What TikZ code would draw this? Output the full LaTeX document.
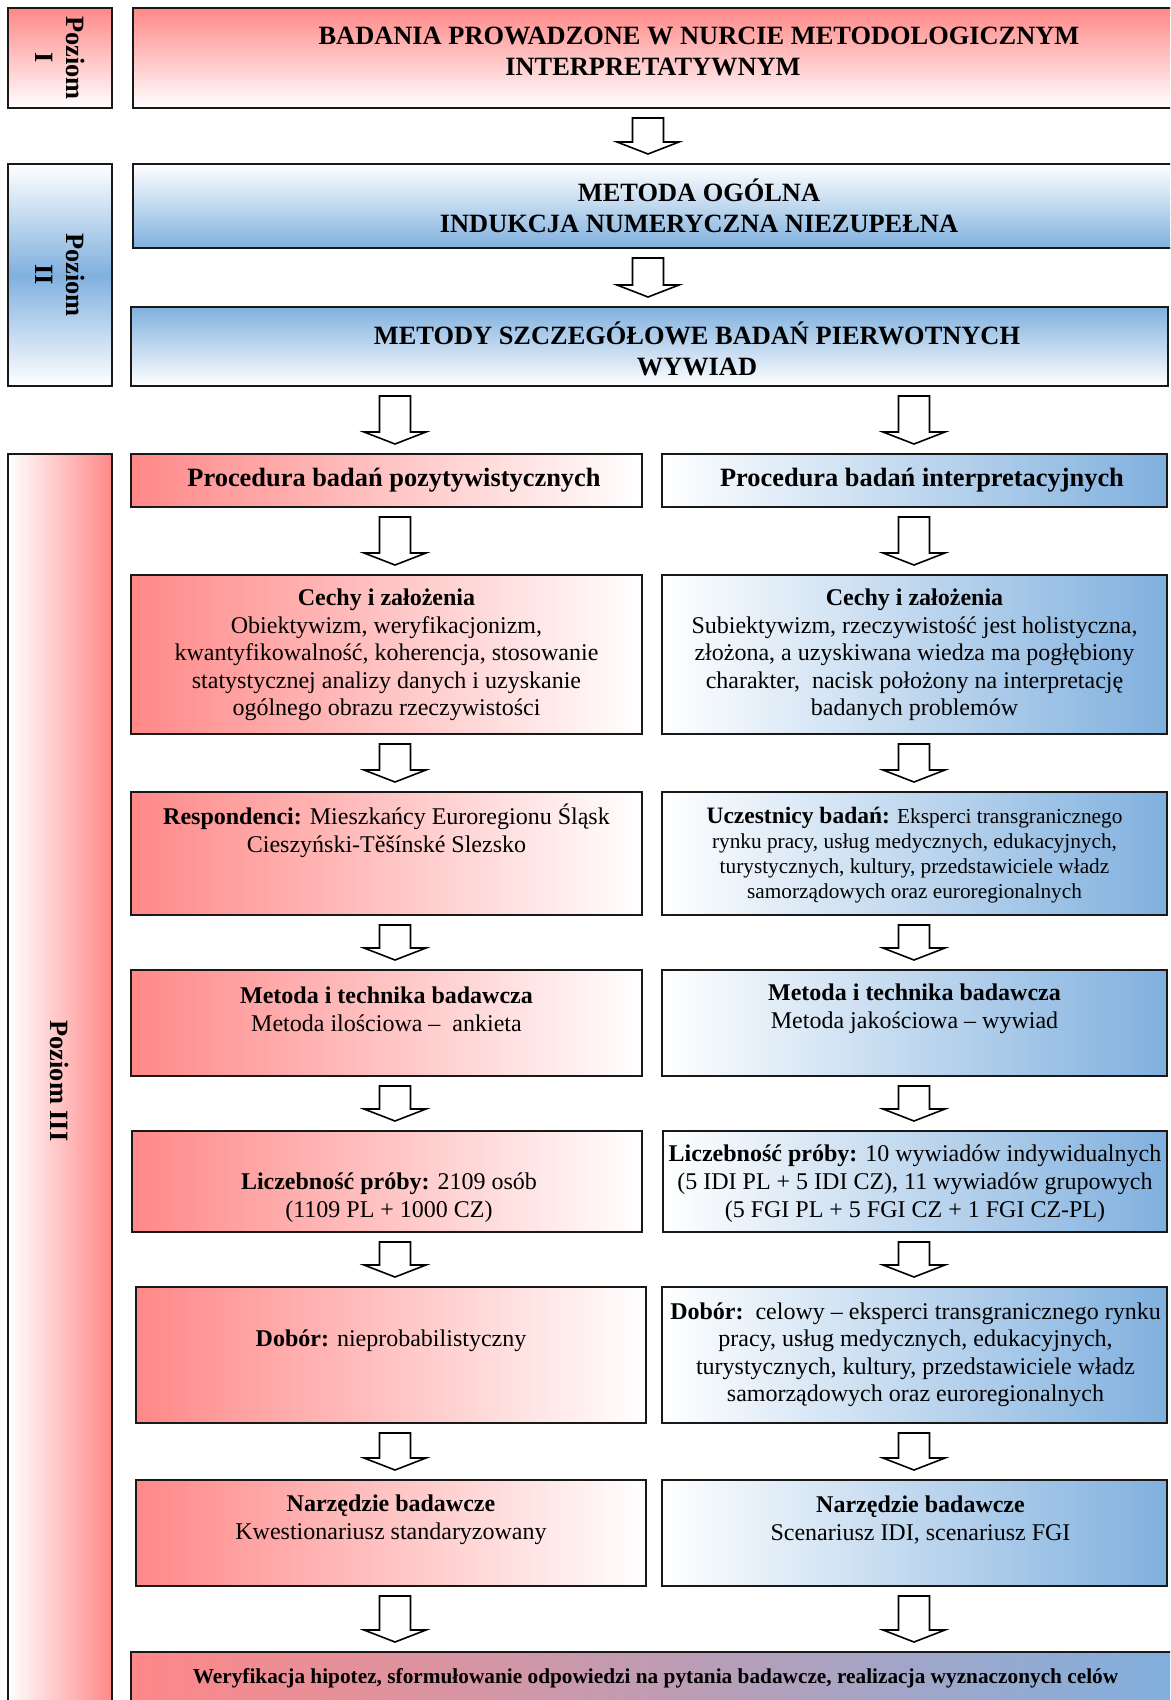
\documentclass[tikz,border=0pt]{standalone}
\usepackage{fontspec}
\setmainfont{Liberation Serif}
\usetikzlibrary{calc}

\definecolor{rosered}{RGB}{255,136,136}
\definecolor{skyblue}{RGB}{128,176,222}

\tikzset{
  box/.style={draw=black!90, line width=2pt, inner sep=0pt},
  txt/.style={align=center, inner sep=0pt, font=\fontsize{24}{27.6}\selectfont},
  head/.style={txt, font=\fontsize{26.4}{31}\selectfont\bfseries},
  small/.style={txt, font=\fontsize{21.3}{24.9}\selectfont},
  hollow/.style={draw=black, line width=1.6pt, fill=white},
}

% hollow block arrow: column, from node, to node
\newcommand\flowarrow[3]{%
  \draw[hollow] ($(#2.south -| #1)+(-15.5,9)$) -- ($(#3.north -| #1)+(-15.5,-21)$)
    -- ($(#3.north -| #1)+(-31,-21)$) -- ($(#3.north -| #1)+(0,-9)$)
    -- ($(#3.north -| #1)+(31,-21)$) -- ($(#3.north -| #1)+(15.5,-21)$)
    -- ($(#2.south -| #1)+(15.5,9)$) -- cycle;
}

\begin{document}
\begin{tikzpicture}[x=1pt,y=-1pt]
    \useasboundingbox (0,0) rectangle (1170,1700);
    \clip (0,0) rectangle (1170,1700);
    \coordinate (colM) at (648,0);
    \coordinate (colL) at (395,0);
    \coordinate (colR) at (914,0);

    % poziom I
    \node[box, minimum width=104, minimum height=100, top color=rosered, bottom color=white] (p1) at (60,58) {};
    \node[head, rotate=-90] (p1t) at (p1) {Poziom\\I};
    \node[box, minimum width=1132, minimum height=100, top color=rosered, bottom color=white] (top) at (699,58) {};
    \node[head] (topt) at (699,51.5) {BADANIA PROWADZONE W NURCIE METODOLOGICZNYM\\\hspace*{-92pt}INTERPRETATYWNYM};

    % poziom II
    \node[box, minimum width=104, minimum height=222, top color=white, bottom color=white, middle color=skyblue] (p2) at (60,275) {};
    \node[head, rotate=-90] (p2t) at (p2) {Poziom\\II};
    \node[box, minimum width=1132, minimum height=84, top color=white, bottom color=skyblue] (metoda) at (699,206) {};
    \node[head] (metodat) at (metoda) {METODA OGÓLNA\\INDUKCJA NUMERYCZNA NIEZUPEŁNA};
    \node[box, minimum width=1037, minimum height=79, top color=skyblue, bottom color=white] (metody) at (649.5,346.5) {};
    \node[head] (metodyt) at (697,348.5) {METODY SZCZEGÓŁOWE BADAŃ PIERWOTNYCH\\WYWIAD};

    % poziom III
    \node[box, minimum width=104, minimum height=1255, left color=white, right color=rosered] (p3) at (60,1081.5) {};
    \node[head, rotate=-90] (p3t) at (60,1081) {Poziom III};

    % lewa kolumna
    \node[box, minimum width=511, minimum height=53, left color=rosered, right color=white] (procL) at (386.5,480.5) {};
    \node[head] (procLt) at (394,480) {Procedura badań pozytywistycznych};
    \node[box, minimum width=511, minimum height=159, left color=rosered, right color=white] (cechyL) at (386.5,654.5) {};
    \node[txt] (cechyLt) at (386.5,655) {\textbf{Cechy i założenia}\\Obiektywizm, weryfikacjonizm,\\kwantyfikowalność, koherencja, stosowanie\\statystycznej analizy danych i uzyskanie\\ogólnego obrazu rzeczywistości};
    \node[box, minimum width=511, minimum height=123, left color=rosered, right color=white] (respL) at (386.5,853.5) {};
    \node[txt] (respLt) at (386.5,830.6) {\textbf{Respondenci:} Mieszkańcy Euroregionu Śląsk\\Cieszyński-Těšínské Slezsko};
    \node[box, minimum width=511, minimum height=106, left color=rosered, right color=white] (metL) at (386.5,1023) {};
    \node[txt] (metLt) at (386.5,1009) {\textbf{Metoda i technika badawcza}\\Metoda ilościowa –\ \ ankieta};
    \node[box, minimum width=510, minimum height=101, left color=rosered, right color=white] (liczL) at (387,1181.5) {};
    \node[txt] (liczLt) at (389,1197.6) {\textbf{Liczebność próby:} 2109 osób\\(1109 PL + 1000 CZ)};
    \node[box, minimum width=510, minimum height=136, left color=rosered, right color=white] (doborL) at (391,1355) {};
    \node[txt] (doborLt) at (391,1341) {\textbf{Dobór:} nieprobabilistyczny};
    \node[box, minimum width=510, minimum height=106, left color=rosered, right color=white] (narzL) at (391,1533) {};
    \node[txt] (narzLt) at (391,1519.7) {\textbf{Narzędzie badawcze}\\Kwestionariusz standaryzowany};

    % prawa kolumna
    \node[box, minimum width=505, minimum height=53, left color=white, right color=skyblue] (procR) at (914.5,480.5) {};
    \node[head] (procRt) at (922,480) {Procedura badań interpretacyjnych};
    \node[box, minimum width=505, minimum height=159, left color=white, right color=skyblue] (cechyR) at (914.5,654.5) {};
    \node[txt] (cechyRt) at (914.5,655) {\textbf{Cechy i założenia}\\Subiektywizm, rzeczywistość jest holistyczna,\\złożona, a uzyskiwana wiedza ma pogłębiony\\charakter,\ \ nacisk położony na interpretację\\badanych problemów};
    \node[box, minimum width=505, minimum height=123, left color=white, right color=skyblue] (uczR) at (914.5,853.5) {};
    \node[small] (uczRt) at (914.5,855) {{\fontsize{23.5}{24.9}\selectfont\bfseries Uczestnicy badań:} Eksperci transgranicznego\\rynku pracy, usług medycznych, edukacyjnych,\\turystycznych, kultury, przedstawiciele władz\\samorządowych oraz euroregionalnych};
    \node[box, minimum width=505, minimum height=106, left color=white, right color=skyblue] (metR) at (914.5,1023) {};
    \node[txt] (metRt) at (914.5,1009) {\textbf{Metoda i technika badawcza}\\Metoda jakościowa – wywiad};
    \node[box, minimum width=504, minimum height=101, left color=white, right color=skyblue] (liczR) at (915,1181.5) {};
    \node[txt] (liczRt) at (915,1183.6) {\textbf{Liczebność próby:} 10 wywiadów indywidualnych\\(5 IDI PL + 5 IDI CZ), 11 wywiadów grupowych\\(5 FGI PL + 5 FGI CZ + 1 FGI CZ-PL)};
    \node[box, minimum width=505, minimum height=136, left color=white, right color=skyblue] (doborR) at (914.5,1355) {};
    \node[txt] (doborRt) at (915.5,1354.7) {\textbf{Dobór:}\ \ celowy – eksperci transgranicznego rynku\\pracy, usług medycznych, edukacyjnych,\\turystycznych, kultury, przedstawiciele władz\\samorządowych oraz euroregionalnych};
    \node[box, minimum width=505, minimum height=106, left color=white, right color=skyblue] (narzR) at (914.5,1533) {};
    \node[txt] (narzRt) at (920.5,1519.7) {\textbf{Narzędzie badawcze}\\Scenariusz IDI, scenariusz FGI};

    % wspolny wynik
    \node[box, minimum width=1049, minimum height=108, left color=rosered, right color=skyblue] (weryf) at (655.5,1706) {};
    \node[txt, font=\fontsize{21.3}{24}\selectfont\bfseries] (weryft) at (655.5,1678) {Weryfikacja hipotez, sformułowanie odpowiedzi na pytania badawcze, realizacja wyznaczonych celów};

    % strzalki
    \flowarrow{colM}{top}{metoda}
    \flowarrow{colM}{metoda}{metody}
    \foreach \a/\b in {metody/procL, procL/cechyL, cechyL/respL, respL/metL, metL/liczL, liczL/doborL, doborL/narzL, narzL/weryf} {
        \flowarrow{colL}{\a}{\b}
    }
    \foreach \a/\b in {metody/procR, procR/cechyR, cechyR/uczR, uczR/metR, metR/liczR, liczR/doborR, doborR/narzR, narzR/weryf} {
        \flowarrow{colR}{\a}{\b}
    }
\end{tikzpicture}
\end{document}
